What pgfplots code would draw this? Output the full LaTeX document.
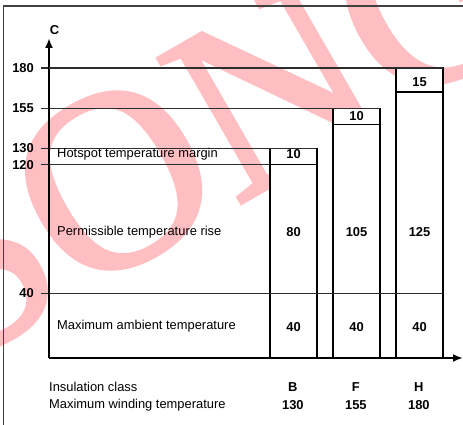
\documentclass[border=0pt]{standalone}
\usepackage{fontspec}
\setmainfont{Liberation Sans}
\newfontfamily\wmfont{Liberation Serif}
\usepackage{pgfplots}
\pgfplotsset{compat=1.18}
\usetikzlibrary{arrows.meta}
\newcommand\lbl{\fontsize{12.9pt}{18pt}\selectfont}
\definecolor{wmpink}{RGB}{255,190,194}
\definecolor{lev}{RGB}{45,45,45}
\begin{document}
\begin{tikzpicture}
\path[use as bounding box] (0,0) rectangle (463pt,424pt);
% watermark
\begin{scope}
\clip (0,0) rectangle (463pt,424pt);
\node[text=wmpink, rotate=30, inner sep=0pt] at (212pt,300pt) {\wmfont\fontsize{255pt}{255pt}\selectfont\addfontfeatures{FakeBold=1.5} SONG};
\end{scope}
% frame
\draw[line width=1.1pt, black!75] (3.3pt,-2pt) -- (3.3pt,418pt) -- (465pt,418pt);

% bars
\begin{axis}[
  at={(49pt,66pt)}, anchor=south west,
  scale only axis, width=414pt, height=320pt,
  xmin=-2.881, xmax=3.69, ymin=0, ymax=198.6,
  hide axis, clip=false,
  ybar stacked, bar width=47pt,
]
\addplot[fill=white, draw=black, line width=1.5pt] coordinates {(1,40) (2,40) (3,40)};
\addplot[fill=white, draw=black, line width=1.5pt] coordinates {(1,80) (2,105) (3,125)};
\addplot[fill=white, draw=black, line width=1.5pt] coordinates {(1,10) (2,10) (3,15)};
\end{axis}

% levels, axes, labels
\begin{axis}[
  at={(49pt,66pt)}, anchor=south west,
  scale only axis, width=414pt, height=320pt,
  xmin=-2.881, xmax=3.69, ymin=0, ymax=198.6,
  clip=false,
  axis lines=left,
  axis line style={line width=2.7pt, -{Latex[length=10pt,width=8pt]}},
  xtick=\empty,
  ytick={40,120,130,155,180},
  tick align=outside, major tick length=8pt,
  tick style={line width=1.4pt, lev},
  /pgf/number format/assume math mode=true,
  yticklabel style={font=\lbl\bfseries, anchor=east, inner sep=0pt, xshift=-7pt},
]
\addplot[lev, line width=1.4pt] coordinates {(-2.881,40) (3.373,40)};
\addplot[lev, line width=1.4pt] coordinates {(-2.881,120) (0.627,120)};
\addplot[lev, line width=1.4pt] coordinates {(-2.881,130) (1.373,130)};
\addplot[lev, line width=1.4pt] coordinates {(-2.881,155) (2.373,155)};
\addplot[lev, line width=1.4pt] coordinates {(-2.881,180) (3.373,180)};

\node[font=\lbl\bfseries, inner sep=0pt, anchor=west] at (axis cs:-2.87,203.6) {C};

\node[font=\lbl, anchor=west, inner sep=0pt] at (axis cs:-2.754,126.6) {Hotspot temperature margin};
\node[font=\lbl, anchor=west, inner sep=0pt] at (axis cs:-2.754,78.2) {Permissible temperature rise};
\node[font=\lbl, anchor=west, inner sep=0pt] at (axis cs:-2.754,19.9) {Maximum ambient temperature};

\node[font=\lbl\bfseries] at (axis cs:1,19) {40};
\node[font=\lbl\bfseries] at (axis cs:2,19) {40};
\node[font=\lbl\bfseries] at (axis cs:3,19) {40};
\node[font=\lbl\bfseries] at (axis cs:1,78.2) {80};
\node[font=\lbl\bfseries] at (axis cs:2,78.2) {105};
\node[font=\lbl\bfseries] at (axis cs:3,78.2) {125};
\node[font=\lbl\bfseries] at (axis cs:1,126.3) {10};
\node[font=\lbl\bfseries] at (axis cs:2,150) {10};
\node[font=\lbl\bfseries] at (axis cs:3,171.5) {15};

\node[font=\lbl, anchor=west, inner sep=0pt] at (axis cs:-2.881,-18) {Insulation class};
\node[font=\lbl, anchor=west, inner sep=0pt] at (axis cs:-2.881,-29.2) {Maximum winding temperature};
\node[font=\lbl\bfseries] at (axis cs:0.99,-18) {B};
\node[font=\lbl\bfseries] at (axis cs:0.99,-29.2) {130};
\node[font=\lbl\bfseries] at (axis cs:1.99,-18) {F};
\node[font=\lbl\bfseries] at (axis cs:1.99,-29.2) {155};
\node[font=\lbl\bfseries] at (axis cs:2.99,-18) {H};
\node[font=\lbl\bfseries] at (axis cs:2.99,-29.2) {180};
\end{axis}
\end{tikzpicture}
\end{document}
